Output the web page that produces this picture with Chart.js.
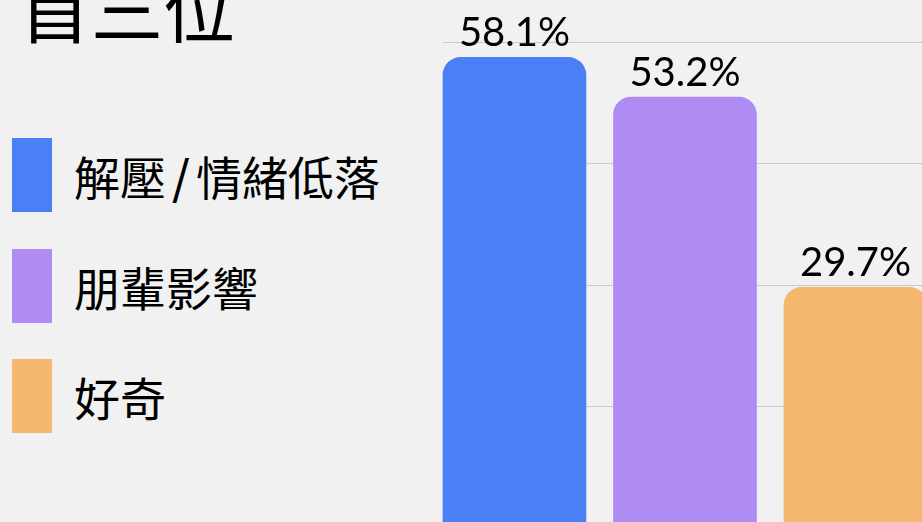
<!DOCTYPE html>
<html>
<head>
<meta charset="utf-8">
<script src="https://cdn.jsdelivr.net/npm/chart.js@4/dist/chart.umd.min.js"></script>
<style>
  html, body {
    margin: 0;
    padding: 0;
    width: 922px;
    height: 522px;
    overflow: hidden;
    background: #f0f1f0;
  }
  #title {
    position: absolute;
    left: 19px;
    top: -30px;
    font-family: 'Noto Sans CJK TC', sans-serif;
    font-size: 72px;
    line-height: 1;
    color: #000;
    white-space: nowrap;
  }
  #legend {
    position: absolute;
    left: 12px;
    top: 138px;
    font-family: 'Noto Sans CJK TC', sans-serif;
    font-size: 46px;
    color: #000;
  }
  .legend-item {
    display: flex;
    align-items: center;
    height: 74px;
    margin-bottom: 36.5px;
  }
  .legend-box {
    width: 40px;
    height: 74px;
    margin-right: 22px;
  }
  .slash {
    display: inline-block;
    margin: 0 6px;
    font-weight: 500;
  }
  #chartWrap {
    position: absolute;
    left: 0;
    top: 0;
    width: 960px;
    height: 540px;
  }
</style>
</head>
<body>
<div id="title">首三位</div>
<div id="legend"></div>
<div id="chartWrap"><canvas id="reasonsChart"></canvas></div>
<script>
const categories = ['解壓/情緒低落', '朋輩影響', '好奇']
const percentages = [58.1, 53.2, 29.7]
const barColors = ['#4a7ff6', '#ae8cf3', '#f3b86d']
const yTicks = [0, 15, 30, 45, 60]

// --- Legend (built from the same arrays) ---
const legendEl = document.getElementById('legend')
categories.forEach((name, i) => {
  const item = document.createElement('div')
  item.className = 'legend-item'
  const box = document.createElement('div')
  box.className = 'legend-box'
  box.style.background = barColors[i]
  const label = document.createElement('span')
  // the slash is drawn a little wider, like in the source slide
  name.split('/').forEach((part, j) => {
    if (j > 0) {
      const s = document.createElement('span')
      s.className = 'slash'
      s.textContent = '/'
      label.appendChild(s)
    }
    label.appendChild(document.createTextNode(part))
  })
  item.appendChild(box)
  item.appendChild(label)
  legendEl.appendChild(item)
})

// --- Value labels above bars ---
const valueLabels = {
  id: 'valueLabels',
  afterDatasetsDraw(chart) {
    const { ctx } = chart
    const meta = chart.getDatasetMeta(0)
    ctx.save()
    ctx.font = '40px Lato, sans-serif'
    ctx.fillStyle = '#000'
    ctx.textAlign = 'center'
    ctx.textBaseline = 'alphabetic'
    meta.data.forEach((bar, i) => {
      ctx.fillText(percentages[i].toFixed(1) + '%', bar.x, bar.y - 11)
    })
    ctx.restore()
  }
}

const ctx = document.getElementById('reasonsChart')
new Chart(ctx, {
  type: 'bar',
  data: {
    labels: categories,
    datasets: [
      {
        // bars sit at x = 0, 1, 2 on a linear axis so the left gap can be trimmed
        data: percentages.map((v, i) => ({ x: i, y: v })),
        backgroundColor: barColors,
        borderWidth: 0,
        borderSkipped: false,
        borderRadius: { topLeft: 18, topRight: 18, bottomLeft: 0, bottomRight: 0 },
        barThickness: 143,
        clip: false
      }
    ]
  },
  options: {
    responsive: true,
    maintainAspectRatio: false,
    animation: false,
    layout: {
      padding: { left: 443, top: 42, right: 38, bottom: 12 }
    },
    plugins: {
      legend: { display: false },
      title: { display: false },
      tooltip: { enabled: false }
    },
    scales: {
      x: {
        type: 'linear',
        display: false,
        offset: false,
        min: -0.419,
        max: 2.39
      },
      y: {
        min: yTicks[0],
        max: yTicks[yTicks.length - 1],
        afterBuildTicks: (scale) => {
          scale.ticks = yTicks.map((v) => ({ value: v }))
        },
        ticks: { display: false },
        border: { display: false },
        grid: {
          color: '#c8c9c8',
          lineWidth: 1,
          drawTicks: false
        }
      }
    }
  },
  plugins: [valueLabels]
})
</script>
</body>
</html>
